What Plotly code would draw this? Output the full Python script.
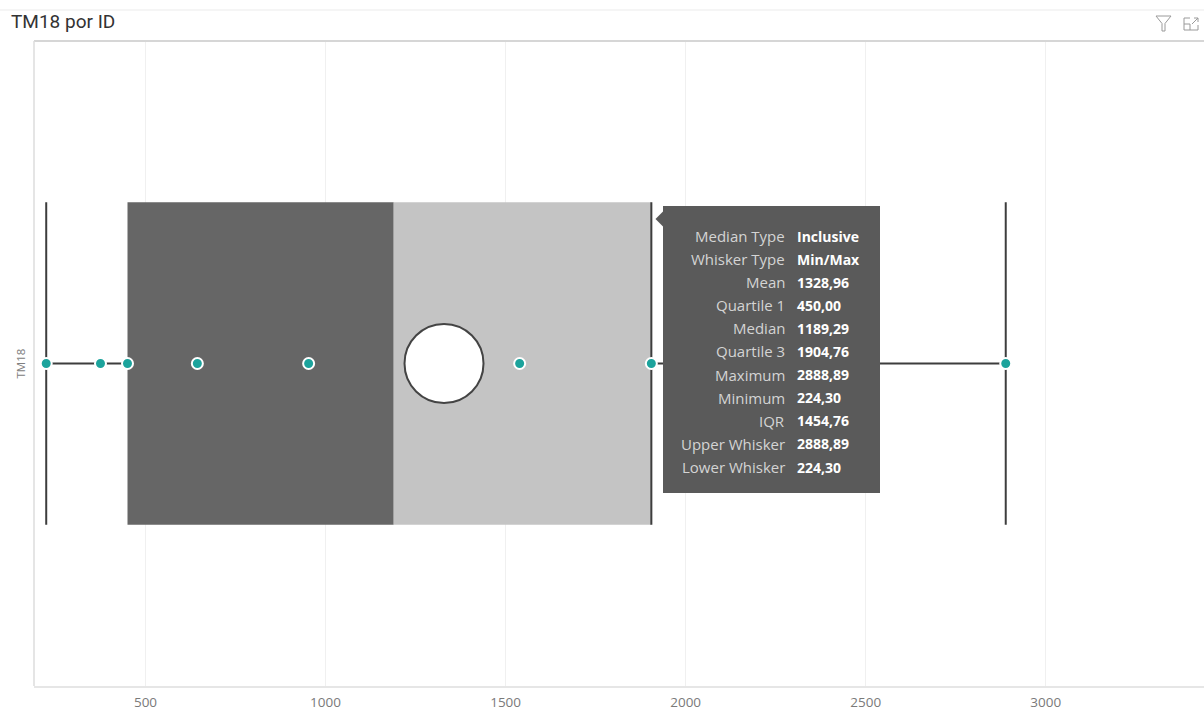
import plotly.graph_objects as go

# ---------------- data ----------------
points_x = [224.30, 375, 450, 644, 953, 1539, 1904.76, 2888.89]
q1 = 450.00
median = 1189.29
q3 = 1904.76
mean = 1328.96
wmin = 224.30
wmax = 2888.89
x_ticks = [500, 1000, 1500, 2000, 2500, 3000]
category = "TM18"
tip_labels = ["Median Type", "Whisker Type", "Mean", "Quartile 1", "Median", "Quartile 3",
              "Maximum", "Minimum", "IQR", "Upper Whisker", "Lower Whisker"]
tip_values = ["Inclusive", "Min/Max", "1328,96", "450,00", "1189,29", "1904,76",
              "2888,89", "224,30", "1454,76", "2888,89", "224,30"]

W, H = 1204, 710
L, R, T, B = 34, 0, 41, 24
PW, PH = W - L - R, H - T - B

def px(x):
    return (x - L) / PW

def py(y):
    return (H - B - y) / PH

TEAL = "#1ca39c"
DARK = "#3d3d3d"
FONT = "Open Sans, Noto Sans, sans-serif"

fig = go.Figure()

y_mid, y_lo, y_hi = 0.5, 0.25, 0.75

# whisker horizontal lines (outside box)
fig.add_trace(go.Scatter(
    x=[wmin, q1, None, q3, wmax], y=[y_mid, y_mid, None, y_mid, y_mid],
    mode="lines", line=dict(color=DARK, width=2), hoverinfo="skip", showlegend=False))
# whisker caps and Q3 edge
for xv in [wmin, wmax, q3]:
    fig.add_trace(go.Scatter(
        x=[xv, xv], y=[y_lo, y_hi], mode="lines",
        line=dict(color=DARK, width=2), hoverinfo="skip", showlegend=False))

# mean circle
fig.add_trace(go.Scatter(
    x=[mean], y=[y_mid], mode="markers",
    marker=dict(size=79, color="white", line=dict(color="#444444", width=2)),
    hoverinfo="skip", showlegend=False))

# data points
fig.add_trace(go.Scatter(
    x=points_x, y=[y_mid] * len(points_x), mode="markers",
    marker=dict(size=11, color=TEAL, line=dict(color="white", width=2)),
    hoverinfo="skip", showlegend=False))

shapes = []
# box halves
shapes.append(dict(type="rect", xref="x", yref="y", x0=q1, x1=median, y0=y_lo, y1=y_hi,
                   fillcolor="#666666", line=dict(width=0), layer="between"))
shapes.append(dict(type="rect", xref="x", yref="y", x0=median, x1=q3, y0=y_lo, y1=y_hi,
                   fillcolor="#c4c4c4", line=dict(width=0), layer="between"))

# frame lines
shapes.append(dict(type="line", xref="paper", yref="paper", x0=px(0), x1=px(W), y0=py(10), y1=py(10),
                   line=dict(color="#ebebeb", width=1), layer="above"))
shapes.append(dict(type="line", xref="paper", yref="paper", x0=px(L), x1=px(W), y0=py(41), y1=py(41),
                   line=dict(color="#d6d6d6", width=2), layer="above"))
shapes.append(dict(type="line", xref="paper", yref="paper", x0=px(L), x1=px(L), y0=py(41), y1=py(686),
                   line=dict(color="#dcdcdc", width=1.5), layer="above"))

# tooltip box and arrow
tx0, tx1, ty0, ty1 = 663, 880, 206, 493
TIPBG = "#5a5a5a"
shapes.append(dict(type="rect", xref="paper", yref="paper", x0=px(tx0), x1=px(tx1), y0=py(ty0), y1=py(ty1),
                   fillcolor=TIPBG, line=dict(width=0), layer="above"))
shapes.append(dict(type="path", xref="paper", yref="paper",
                   path=f"M {px(663.5)} {py(211)} L {px(655.5)} {py(219)} L {px(663.5)} {py(227)} Z",
                   fillcolor=TIPBG, line=dict(width=0), layer="above"))

# icons (filter funnel and focus mode)
ic = "#9a9a9a"
shapes.append(dict(type="path", xref="paper", yref="paper",
                   path=(f"M {px(1156)} {py(16)} L {px(1171)} {py(16)} L {px(1165)} {py(23.5)} "
                         f"L {px(1165)} {py(31)} L {px(1162)} {py(31)} L {px(1162)} {py(23.5)} Z"),
                   line=dict(color=ic, width=1), layer="above"))
shapes.append(dict(type="path", xref="paper", yref="paper",
                   path=(f"M {px(1190)} {py(18)} L {px(1184)} {py(18)} L {px(1184)} {py(30)} "
                         f"L {px(1198)} {py(30)} L {px(1198)} {py(25)}"),
                   line=dict(color=ic, width=1), layer="above"))
shapes.append(dict(type="path", xref="paper", yref="paper",
                   path=f"M {px(1184)} {py(24)} L {px(1190)} {py(24)} L {px(1190)} {py(30)}",
                   line=dict(color=ic, width=1), layer="above"))
shapes.append(dict(type="path", xref="paper", yref="paper",
                   path=(f"M {px(1192)} {py(24)} L {px(1198)} {py(18)} M {px(1194)} {py(18)} "
                         f"L {px(1198)} {py(18)} L {px(1198)} {py(22)}"),
                   line=dict(color=ic, width=1), layer="above"))

annotations = []
# title
annotations.append(dict(text="TM18 por ID", xref="paper", yref="paper", x=px(9), y=py(22),
                        xanchor="left", yanchor="middle", showarrow=False,
                        font=dict(family="Roboto, sans-serif", size=19, color="#333333")))
# category label
annotations.append(dict(text=category, xref="paper", yref="y", x=px(20), y=y_mid,
                        xanchor="center", yanchor="middle", showarrow=False, textangle=-90,
                        font=dict(family=FONT, size=11.5, color="#808080")))
# tooltip rows
row0, rstep = 236, 23.1
for i, (lab, val) in enumerate(zip(tip_labels, tip_values)):
    yy = py(row0 + i * rstep)
    annotations.append(dict(text=lab, xref="paper", yref="paper", x=px(787), y=yy,
                            xanchor="right", yanchor="middle", showarrow=False,
                            font=dict(family=FONT, size=15, color="#d4d4d4")))
    annotations.append(dict(text=f"<b>{val}</b>", xref="paper", yref="paper", x=px(795), y=yy,
                            xanchor="left", yanchor="middle", showarrow=False,
                            font=dict(family=FONT, size=14, color="#ffffff")))

fig.update_layout(
    width=W, height=H,
    margin=dict(l=L, r=R, t=T, b=B, autoexpand=False),
    paper_bgcolor="white", plot_bgcolor="white",
    shapes=shapes, annotations=annotations,
    xaxis=dict(range=[500 - (145.5 - L) / 0.3601, 500 + (W - 145.5) / 0.3601],
               tickvals=x_ticks, ticktext=[str(t) for t in x_ticks],
               showgrid=True, gridcolor="#f0f0f0", gridwidth=1,
               zeroline=False, showline=True, linecolor="#e6e6e6", linewidth=2,
               ticks="", ticklabelstandoff=3,
               tickfont=dict(family=FONT, size=13.5, color="#7a7a7a")),
    yaxis=dict(range=[0, 1], showgrid=False, zeroline=False, showticklabels=False,
               showline=False, fixedrange=True),
    showlegend=False,
)

fig.write_html("out.html")
